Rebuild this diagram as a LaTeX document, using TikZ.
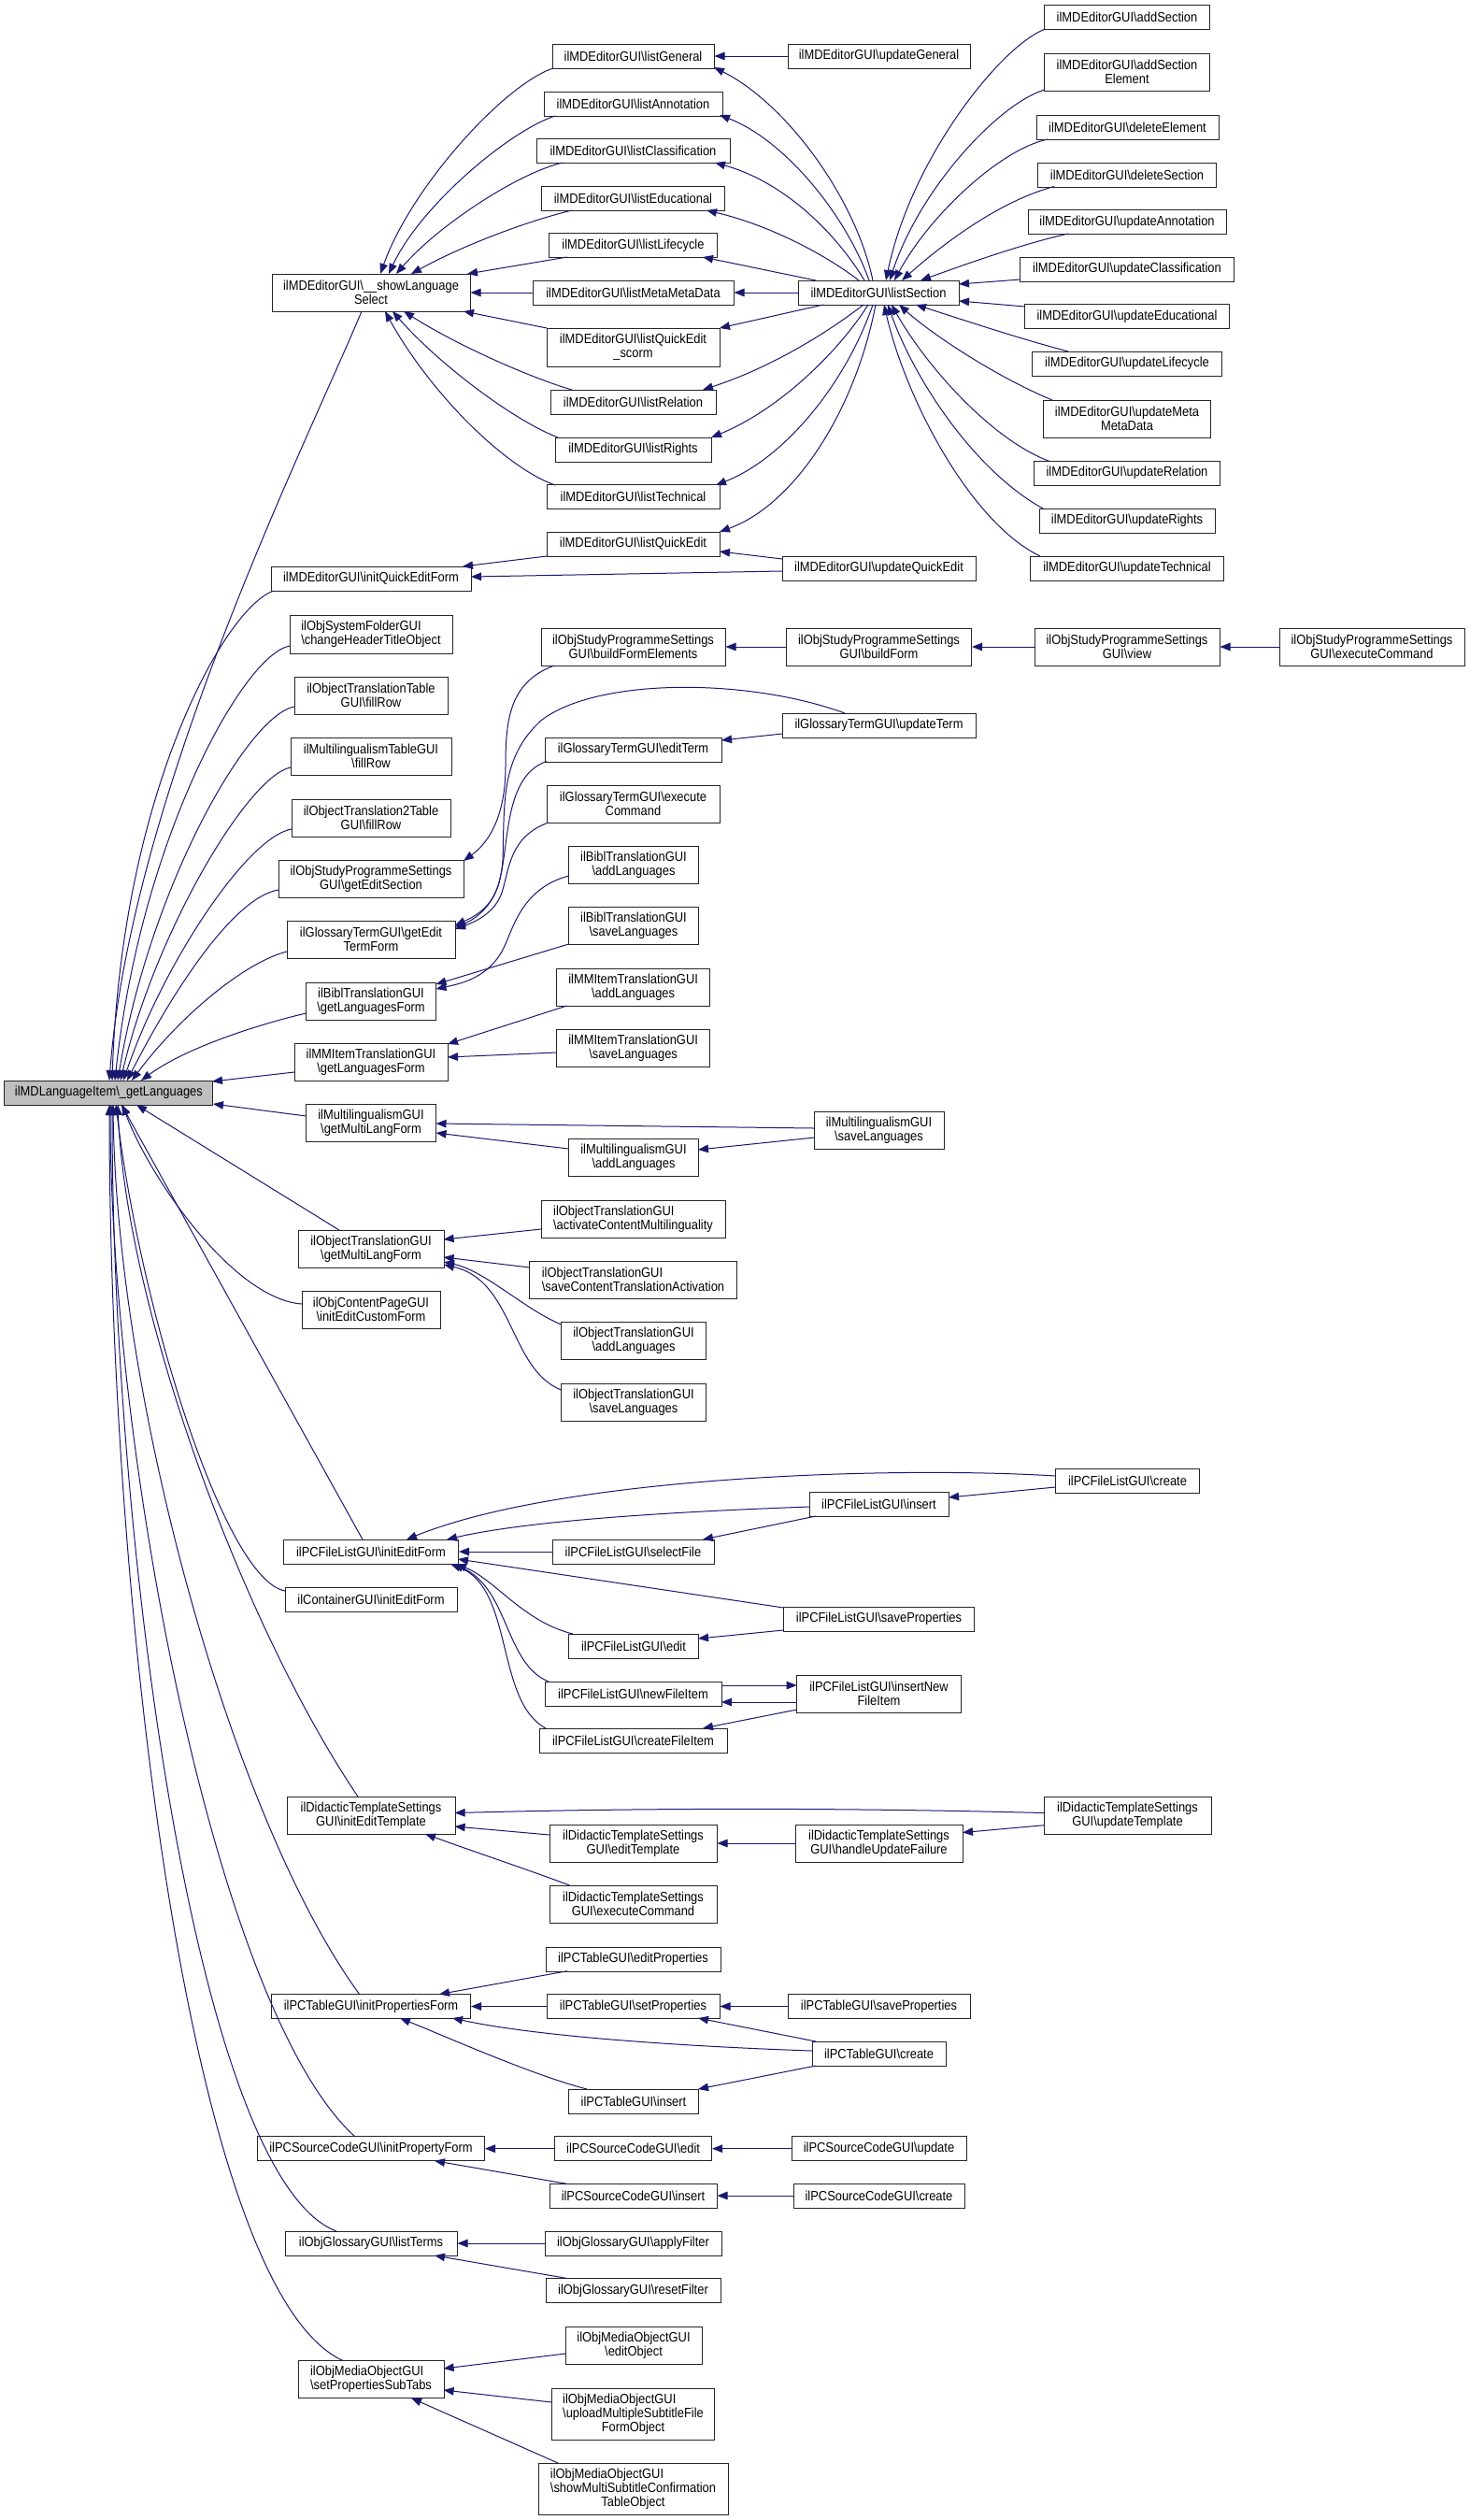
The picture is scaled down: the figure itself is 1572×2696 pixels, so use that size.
\documentclass[tikz,border=0pt]{standalone}
\usepackage{fontspec}
\setmainfont{Liberation Sans}[FakeStretch=0.89]
\usetikzlibrary{arrows.meta}
\definecolor{navy}{RGB}{25,25,112}
\definecolor{rootgray}{RGB}{191,191,191}
\newcommand\bs{\textbackslash}
\newcommand\lft[2]{\setbox0=\hbox{#2}\hbox to\wd0{#1\hfil}}
\newcommand\Nd[6]{\node[box,minimum width=#4pt,minimum height=#5pt] (#1) at (#2,#3) {#6};}
\begin{document}
\begin{tikzpicture}[x=1pt,y=-1pt,
 box/.style={draw=black!85, line width=1pt, fill=white, inner xsep=3pt, inner ysep=1pt, align=center, font=\fontsize{14.5}{15}\selectfont},
 e/.style={draw=navy, line width=1pt, >={Triangle[length=11pt,width=8.5pt]}, <-}
]
\useasboundingbox (0,0) rectangle (1572,2696);
\fill[white] (0,0) rectangle (1572,2696);

% root
\node[box,fill=rootgray,minimum width=223pt,minimum height=26pt] (G) at (116.4,1169) {ilMDLanguageItem\bs\_getLanguages};

% column 1
\Nd{showLS}{397}{313}{212}{40}{ilMDEditorGUI\bs\_\_showLanguage\\Select}
\Nd{initQE}{397}{619}{214}{26}{ilMDEditorGUI\bs initQuickEditForm}
\Nd{chgHdr}{397}{678.5}{174}{41}{\lft{ilObjSystemFolderGUI}{\bs changeHeaderTitleObject}\\\bs changeHeaderTitleObject}
\Nd{otTable}{397}{744}{164}{40}{ilObjectTranslationTable\\GUI\bs fillRow}
\Nd{mlTable}{397}{809}{172}{40}{ilMultilingualismTableGUI\\\bs fillRow}
\Nd{otTwoTable}{397}{875}{170}{40}{ilObjectTranslation2Table\\GUI\bs fillRow}
\Nd{spEditSec}{397}{940}{198}{40}{ilObjStudyProgrammeSettings\\GUI\bs getEditSection}
\Nd{gtEditForm}{397}{1005}{180}{40}{ilGlossaryTermGUI\bs getEdit\\TermForm}
\Nd{biblForm}{397}{1071}{139}{40}{ilBiblTranslationGUI\\\bs getLanguagesForm}
\Nd{mmForm}{397}{1136}{164}{40}{ilMMItemTranslationGUI\\\bs getLanguagesForm}
\Nd{mlForm}{397}{1201}{139}{40}{ilMultilingualismGUI\\\bs getMultiLangForm}
\Nd{otForm}{397}{1336}{156}{40}{ilObjectTranslationGUI\\\bs getMultiLangForm}
\Nd{cpForm}{397}{1401}{148}{40}{ilObjContentPageGUI\\\bs initEditCustomForm}
\Nd{fileInit}{397}{1660}{187}{26}{ilPCFileListGUI\bs initEditForm}
\Nd{contInit}{397}{1711}{184}{26}{ilContainerGUI\bs initEditForm}
\Nd{dtInit}{397}{1942}{180}{40}{ilDidacticTemplateSettings\\GUI\bs initEditTemplate}
\Nd{tabInit}{397}{2146.5}{213}{26}{ilPCTableGUI\bs initPropertiesForm}
\Nd{scInit}{397}{2298.7}{243}{26}{ilPCSourceCodeGUI\bs initPropertyForm}
\Nd{glTerms}{397}{2400}{184}{26}{ilObjGlossaryGUI\bs listTerms}
\Nd{moTabs}{397}{2545.5}{156}{40}{\lft{ilObjMediaObjectGUI}{\bs setPropertiesSubTabs}\\\bs setPropertiesSubTabs}

% column 2
\Nd{lGen}{677.5}{60}{173}{26}{ilMDEditorGUI\bs listGeneral}
\Nd{lAnn}{677.5}{111}{191}{26}{ilMDEditorGUI\bs listAnnotation}
\Nd{lCla}{677.5}{161.5}{207}{26}{ilMDEditorGUI\bs listClassification}
\Nd{lEdu}{677.5}{212}{196}{26}{ilMDEditorGUI\bs listEducational}
\Nd{lLif}{677.5}{262.5}{180}{26}{ilMDEditorGUI\bs listLifecycle}
\Nd{lMMD}{677.5}{313}{215}{26}{ilMDEditorGUI\bs listMetaMetaData}
\Nd{lQES}{677.5}{371.5}{185}{41}{ilMDEditorGUI\bs listQuickEdit\\\_scorm}
\Nd{lRel}{677.5}{430}{177}{26}{ilMDEditorGUI\bs listRelation}
\Nd{lRig}{677.5}{481}{167}{26}{ilMDEditorGUI\bs listRights}
\Nd{lTec}{677.5}{531.5}{185}{26}{ilMDEditorGUI\bs listTechnical}
\Nd{lQE}{677.5}{582}{185}{26}{ilMDEditorGUI\bs listQuickEdit}
\Nd{spBFE}{677.5}{692}{197}{40}{ilObjStudyProgrammeSettings\\GUI\bs buildFormElements}
\Nd{gtEdit}{677.5}{802}{189}{26}{ilGlossaryTermGUI\bs editTerm}
\Nd{gtExec}{677.5}{860}{185}{40}{ilGlossaryTermGUI\bs execute\\Command}
\Nd{biblAdd}{678}{925}{139}{40}{ilBiblTranslationGUI\\\bs addLanguages}
\Nd{biblSave}{678}{990}{139}{40}{ilBiblTranslationGUI\\\bs saveLanguages}
\Nd{mmAdd}{677.6}{1056}{164}{40}{ilMMItemTranslationGUI\\\bs addLanguages}
\Nd{mmSave}{677.6}{1121}{164}{40}{ilMMItemTranslationGUI\\\bs saveLanguages}
\Nd{mlAdd}{678}{1238.6}{139}{40}{ilMultilingualismGUI\\\bs addLanguages}
\Nd{otAct}{677.5}{1304}{197}{40}{\lft{ilObjectTranslationGUI}{\bs activateContentMultilinguality}\\\bs activateContentMultilinguality}
\Nd{otCTA}{677.5}{1369}{222}{40}{\lft{ilObjectTranslationGUI}{\bs saveContentTranslationActivation}\\\bs saveContentTranslationActivation}
\Nd{otAdd}{678}{1434.6}{155}{40}{ilObjectTranslationGUI\\\bs addLanguages}
\Nd{otSave}{678}{1500}{155}{40}{ilObjectTranslationGUI\\\bs saveLanguages}
\Nd{fSelect}{677.5}{1660}{173}{26}{ilPCFileListGUI\bs selectFile}
\Nd{fEdit}{678}{1761}{139}{26}{ilPCFileListGUI\bs edit}
\Nd{fNew}{677.5}{1812}{189}{26}{ilPCFileListGUI\bs newFileItem}
\Nd{fCreItem}{677.5}{1862}{201}{26}{ilPCFileListGUI\bs createFileItem}
\Nd{dtEdit}{677.5}{1972}{179}{40}{ilDidacticTemplateSettings\\GUI\bs editTemplate}
\Nd{dtExec}{677.5}{2037}{179}{40}{ilDidacticTemplateSettings\\GUI\bs executeCommand}
\Nd{tEditP}{677.5}{2096}{187}{26}{ilPCTableGUI\bs editProperties}
\Nd{tSetP}{677.5}{2146.5}{185}{26}{ilPCTableGUI\bs setProperties}
\Nd{tInsert}{678}{2248}{139}{26}{ilPCTableGUI\bs insert}
\Nd{scEdit}{677.6}{2298.7}{168}{26}{ilPCSourceCodeGUI\bs edit}
\Nd{scInsert}{677.5}{2349}{179}{26}{ilPCSourceCodeGUI\bs insert}
\Nd{glApply}{677.5}{2400}{189}{26}{ilObjGlossaryGUI\bs applyFilter}
\Nd{glReset}{677.5}{2450.5}{187}{26}{ilObjGlossaryGUI\bs resetFilter}
\Nd{moEdit}{678}{2509}{146}{40}{ilObjMediaObjectGUI\\\bs editObject}
\Nd{moUpload}{677.5}{2582.5}{174}{55}{\lft{ilObjMediaObjectGUI}{\bs uploadMultipleSubtitleFile}\\\bs uploadMultipleSubtitleFile\\FormObject}
\Nd{moShow}{677.5}{2662.6}{203}{55}{\lft{ilObjMediaObjectGUI}{\bs showMultiSubtitleConfirmation}\\\bs showMultiSubtitleConfirmation\\TableObject}

% column 3
\Nd{upGen}{940.5}{60}{195}{26}{ilMDEditorGUI\bs updateGeneral}
\Nd{lSec}{940}{313}{172}{26}{ilMDEditorGUI\bs listSection}
\Nd{upQE}{940.5}{608}{207}{26}{ilMDEditorGUI\bs updateQuickEdit}
\Nd{spBF}{940.5}{692}{198}{40}{ilObjStudyProgrammeSettings\\GUI\bs buildForm}
\Nd{gtUpd}{940.5}{776}{207}{26}{ilGlossaryTermGUI\bs updateTerm}
\Nd{mlSave}{940.5}{1209}{139}{40}{ilMultilingualismGUI\\\bs saveLanguages}
\Nd{fInsert}{940.5}{1609}{149}{26}{ilPCFileListGUI\bs insert}
\Nd{fSaveP}{940.5}{1732}{204}{26}{ilPCFileListGUI\bs saveProperties}
\Nd{fInsNew}{940.5}{1812}{176}{40}{ilPCFileListGUI\bs insertNew\\FileItem}
\Nd{dtHUF}{940.5}{1972}{179}{40}{ilDidacticTemplateSettings\\GUI\bs handleUpdateFailure}
\Nd{tSaveP}{940.5}{2146.5}{195}{26}{ilPCTableGUI\bs saveProperties}
\Nd{tCreate}{940.5}{2197}{143}{26}{ilPCTableGUI\bs create}
\Nd{scUpd}{940.5}{2298.7}{187}{26}{ilPCSourceCodeGUI\bs update}
\Nd{scCreate}{940.5}{2349}{183}{26}{ilPCSourceCodeGUI\bs create}

% column 4
\Nd{addSec}{1206}{18.4}{177}{26}{ilMDEditorGUI\bs addSection}
\Nd{addSecEl}{1206}{77}{177}{40}{ilMDEditorGUI\bs addSection\\Element}
\Nd{delEl}{1206.5}{136}{195}{26}{ilMDEditorGUI\bs deleteElement}
\Nd{delSec}{1206}{187}{191}{26}{ilMDEditorGUI\bs deleteSection}
\Nd{upAnn}{1206}{237.5}{212}{26}{ilMDEditorGUI\bs updateAnnotation}
\Nd{upCla}{1206}{288}{229}{26}{ilMDEditorGUI\bs updateClassification}
\Nd{upEdu}{1206}{338.5}{219}{26}{ilMDEditorGUI\bs updateEducational}
\Nd{upLif}{1206}{389}{203}{26}{ilMDEditorGUI\bs updateLifecycle}
\Nd{upMMD}{1206}{448}{179}{40}{ilMDEditorGUI\bs updateMeta\\MetaData}
\Nd{upRel}{1206}{506}{199}{26}{ilMDEditorGUI\bs updateRelation}
\Nd{upRig}{1206}{557}{188}{26}{ilMDEditorGUI\bs updateRights}
\Nd{upTec}{1206}{608}{207}{26}{ilMDEditorGUI\bs updateTechnical}
\Nd{spView}{1206}{692}{198}{40}{ilObjStudyProgrammeSettings\\GUI\bs view}
\Nd{fCreate}{1206.5}{1584}{154}{26}{ilPCFileListGUI\bs create}
\Nd{dtUpd}{1206.5}{1942.7}{179}{40}{ilDidacticTemplateSettings\\GUI\bs updateTemplate}

% column 5
\Nd{spExec}{1468}{692}{198}{40}{ilObjStudyProgrammeSettings\\GUI\bs executeCommand}

% ---------- edges into root (upper fan)
\draw[e] ([shift={(0.6,-13)}]G.center) .. controls (140,850) and (330,470) .. ([shift={(-10,20)}]showLS.center);
\draw[e] ([shift={(3.6,-13)}]G.center) .. controls (130,850) and (240,650) .. ([shift={(-104,13)}]initQE.center);
\draw[e] ([shift={(6.6,-13)}]G.center) .. controls (150,900) and (260,700) .. ([shift={(-87,12.5)}]chgHdr.center);
\draw[e] ([shift={(9.6,-13)}]G.center) .. controls (160,950) and (265,765) .. ([shift={(-82,12)}]otTable.center);
\draw[e] ([shift={(12.6,-13)}]G.center) .. controls (165,1000) and (265,830) .. ([shift={(-86,12)}]mlTable.center);
\draw[e] ([shift={(15.6,-13)}]G.center) .. controls (175,1030) and (265,895) .. ([shift={(-85,12)}]otTwoTable.center);
\draw[e] ([shift={(19.6,-13)}]G.center) .. controls (185,1060) and (250,960) .. ([shift={(-99,12)}]spEditSec.center);
\draw[e] ([shift={(24.6,-13)}]G.center) .. controls (190,1090) and (260,1030) .. ([shift={(-90,13)}]gtEditForm.center);
\draw[e] ([shift={(34.6,-13)}]G.center) .. controls (200,1120) and (280,1095) .. ([shift={(-69.5,13)}]biblForm.center);
\draw[e] ([shift={(110.6,-12)}]G.center) -- ([shift={(-82,11)}]mmForm.center);
\draw[e] ([shift={(111.6,12)}]G.center) -- ([shift={(-69.5,-7)}]mlForm.center);
% lower fan
\draw[e] ([shift={(29.6,13)}]G.center) -- ([shift={(-34,-20)}]otForm.center);
\draw[e] ([shift={(14.6,13)}]G.center) .. controls (160,1260) and (250,1390) .. ([shift={(-74,-6)}]cpForm.center);
\draw[e] ([shift={(13.6,13)}]G.center) -- ([shift={(-9,-13)}]fileInit.center);
\draw[e] ([shift={(7.6,13)}]G.center) .. controls (150,1400) and (240,1690) .. ([shift={(-92,-9)}]contInit.center);
\draw[e] ([shift={(9.6,13)}]G.center) .. controls (135,1400) and (260,1740) .. ([shift={(-14,-20)}]dtInit.center);
\draw[e] ([shift={(4.6,13)}]G.center) .. controls (125,1500) and (250,1950) .. ([shift={(-12,-12.5)}]tabInit.center);
\draw[e] ([shift={(1.6,13)}]G.center) .. controls (118,1550) and (230,2150) .. ([shift={(-17,-12.7)}]scInit.center);
\draw[e] ([shift={(3.6,13)}]G.center) .. controls (120,1650) and (210,2330) .. ([shift={(-37,-13)}]glTerms.center);
\draw[e] ([shift={(0.6,13)}]G.center) .. controls (117,1700) and (200,2450) .. ([shift={(-30,-20)}]moTabs.center);

% ---------- list* -> showLanguageSelect
\draw[e] ([shift={(10,-20)}]showLS.center) .. controls (440,200) and (540,90) .. ([shift={(-85.5,13)}]lGen.center);
\draw[e] ([shift={(19,-20)}]showLS.center) .. controls (450,220) and (545,140) .. ([shift={(-83.5,13)}]lAnn.center);
\draw[e] ([shift={(27,-20)}]showLS.center) .. controls (470,240) and (555,185) .. ([shift={(-75.5,12.5)}]lCla.center);
\draw[e] ([shift={(43,-20)}]showLS.center) .. controls (500,260) and (570,235) .. ([shift={(-65.5,13)}]lEdu.center);
\draw[e] ([shift={(103,-20)}]showLS.center) -- ([shift={(-70.5,12.5)}]lLif.center);
\draw[e] (showLS.east) -- (lMMD.west);
\draw[e] ([shift={(99,20)}]showLS.center) -- ([shift={(-92.5,-20.5)}]lQES.center);
\draw[e] ([shift={(35,20)}]showLS.center) .. controls (490,370) and (570,405) .. ([shift={(-65.5,-13)}]lRel.center);
\draw[e] ([shift={(23,20)}]showLS.center) .. controls (470,390) and (550,450) .. ([shift={(-80.5,-13)}]lRig.center);
\draw[e] ([shift={(15,20)}]showLS.center) .. controls (460,420) and (540,500) .. ([shift={(-83.5,-12.5)}]lTec.center);

% ---------- listSection -> list*
\draw[e] ([shift={(86.5,12)}]lGen.center) .. controls (840,110) and (915,210) .. ([shift={(-6,-13)}]lSec.center);
\draw[e] ([shift={(92.5,12)}]lAnn.center) .. controls (840,150) and (905,230) .. ([shift={(-10,-13)}]lSec.center);
\draw[e] ([shift={(87.5,12.5)}]lCla.center) .. controls (840,195) and (895,250) .. ([shift={(-15,-13)}]lSec.center);
\draw[e] ([shift={(78.5,13)}]lEdu.center) .. controls (820,240) and (880,270) .. ([shift={(-21,-13)}]lSec.center);
\draw[e] ([shift={(74.5,12.5)}]lLif.center) -- ([shift={(-67,-13)}]lSec.center);
\draw[e] (lMMD.east) -- (lSec.west);
\draw[e] ([shift={(92.5,-20.5)}]lQES.center) -- ([shift={(-59,13)}]lSec.center);
\draw[e] ([shift={(74.5,-13)}]lRel.center) .. controls (820,395) and (880,360) .. ([shift={(-16,13)}]lSec.center);
\draw[e] ([shift={(83.5,-13)}]lRig.center) .. controls (830,440) and (895,380) .. ([shift={(-11,13)}]lSec.center);
\draw[e] ([shift={(88.5,-12.5)}]lTec.center) .. controls (840,490) and (905,410) .. ([shift={(-6,13)}]lSec.center);
\draw[e] ([shift={(92.5,-13)}]lQE.center) .. controls (850,540) and (915,440) .. ([shift={(-3,13)}]lSec.center);

% ---------- column 4 -> listSection
\draw[e] ([shift={(8,-13)}]lSec.center) .. controls (975,170) and (1070,50) .. ([shift={(-88,12.8)}]addSec.center);
\draw[e] ([shift={(12,-13)}]lSec.center) .. controls (985,200) and (1070,110) .. ([shift={(-88,19)}]addSecEl.center);
\draw[e] ([shift={(17,-13)}]lSec.center) .. controls (995,230) and (1070,160) .. ([shift={(-85.5,13)}]delEl.center);
\draw[e] ([shift={(25,-13)}]lSec.center) .. controls (1010,260) and (1070,215) .. ([shift={(-78,12.5)}]delSec.center);
\draw[e] ([shift={(45,-13)}]lSec.center) .. controls (1030,284) and (1090,262) .. ([shift={(-63,12.5)}]upAnn.center);
\draw[e] ([shift={(86,-9)}]lSec.center) -- ([shift={(-114,11)}]upCla.center);
\draw[e] ([shift={(86,9)}]lSec.center) -- ([shift={(-109,-10.5)}]upEdu.center);
\draw[e] ([shift={(40,13)}]lSec.center) .. controls (1030,342) and (1090,362) .. ([shift={(-63,-13)}]upLif.center);
\draw[e] ([shift={(22,13)}]lSec.center) .. controls (1000,360) and (1070,405) .. ([shift={(-80,-20)}]upMMD.center);
\draw[e] ([shift={(14,13)}]lSec.center) .. controls (990,390) and (1060,470) .. ([shift={(-83,-12.5)}]upRel.center);
\draw[e] ([shift={(10,13)}]lSec.center) .. controls (980,410) and (1045,505) .. ([shift={(-90,-13)}]upRig.center);
\draw[e] ([shift={(6,13)}]lSec.center) .. controls (970,430) and (1040,560) .. ([shift={(-93,-13)}]upTec.center);

\draw[e] (lGen.east) -- (upGen.west);
\draw[e] ([shift={(92.5,8)}]lQE.center) -- ([shift={(-103.5,-10)}]upQE.center);
\draw[e] ([shift={(107,-2)}]initQE.center) -- ([shift={(-103.5,3)}]upQE.center);
\draw[e] ([shift={(98,-13)}]initQE.center) -- ([shift={(-92.5,13)}]lQE.center);

% ---------- study programme / glossary
\draw[e] ([shift={(99,-19)}]spEditSec.center) .. controls (525,900) and (541,870) .. (541,820) .. controls (541,770) and (545,730) .. ([shift={(-84.5,20)}]spBFE.center);
\draw[e] (spBFE.east) -- (spBF.west);
\draw[e] (spBF.east) -- (spView.west);
\draw[e] (spView.east) -- (spExec.west);
\draw[e] ([shift={(90,-15)}]gtEditForm.center) .. controls (520,975) and (535,960) .. (538,920) .. controls (540,860) and (535,810) .. (580,770) .. controls (640,725) and (800,725) .. ([shift={(-36.5,-13)}]gtUpd.center);
\draw[e] ([shift={(94.5,-10)}]gtEdit.center) -- ([shift={(-103.5,9)}]gtUpd.center);
\draw[e] ([shift={(90,-13)}]gtEditForm.center) .. controls (512,982) and (530,965) .. (535,940) .. controls (545,900) and (540,830) .. ([shift={(-92.5,12.5)}]gtEdit.center);
\draw[e] ([shift={(90,-11)}]gtEditForm.center) .. controls (512,985) and (530,975) .. (537,955) .. controls (545,930) and (545,895) .. ([shift={(-90.5,20)}]gtExec.center);

% ---------- translation forms
\draw[e] ([shift={(69.5,-13)}]biblForm.center) .. controls (495,1052) and (525,1045) .. (540,1012) .. controls (550,990) and (560,950) .. ([shift={(-69.4,12)}]biblAdd.center);
\draw[e] ([shift={(69.5,-18)}]biblForm.center) -- ([shift={(-69.4,20)}]biblSave.center);
\draw[e] ([shift={(82,-19)}]mmForm.center) -- ([shift={(-71,20)}]mmAdd.center);
\draw[e] ([shift={(82,-5)}]mmForm.center) -- ([shift={(-82,5)}]mmSave.center);
\draw[e] ([shift={(69.5,1)}]mlForm.center) -- ([shift={(-69.5,-2)}]mlSave.center);
\draw[e] ([shift={(69,-8.6)}]mlAdd.center) -- ([shift={(-69.5,8)}]mlSave.center);
\draw[e] ([shift={(69.5,11)}]mlForm.center) -- ([shift={(-69.4,-9.6)}]mlAdd.center);
\draw[e] ([shift={(77.6,-10)}]otForm.center) -- ([shift={(-98.5,11)}]otAct.center);
\draw[e] ([shift={(77.6,9)}]otForm.center) -- ([shift={(-110.8,-13)}]otCTA.center);
\draw[e] ([shift={(78,14)}]otForm.center) .. controls (520,1360) and (560,1400) .. ([shift={(-77.5,-17.6)}]otAdd.center);
\draw[e] ([shift={(78,17)}]otForm.center) .. controls (550,1370) and (545,1465) .. ([shift={(-77.5,-13)}]otSave.center);

% ---------- PC file list
\draw[e] ([shift={(38,-13)}]fileInit.center) .. controls (600,1580) and (950,1568) .. ([shift={(-77,-5)}]fCreate.center);
\draw[e] ([shift={(74.5,-7)}]fInsert.center) -- ([shift={(-77,7)}]fCreate.center);
\draw[e] ([shift={(81,-13)}]fileInit.center) .. controls (560,1628) and (700,1618) .. ([shift={(-74.5,3)}]fInsert.center);
\draw[e] ([shift={(74.5,-13)}]fSelect.center) -- ([shift={(-67.5,13)}]fInsert.center);
\draw[e] (fileInit.east) -- (fSelect.west);
\draw[e] ([shift={(93,8)}]fileInit.center) -- ([shift={(-102,-12)}]fSaveP.center);
\draw[e] ([shift={(69,-8)}]fEdit.center) -- ([shift={(-102,12)}]fSaveP.center);
\draw[e] ([shift={(91,13)}]fileInit.center) .. controls (530,1690) and (560,1735) .. ([shift={(-65,-13)}]fEdit.center);
\draw[e] ([shift={(88,13)}]fileInit.center) .. controls (545,1700) and (540,1780) .. ([shift={(-90.5,-13)}]fNew.center);
\draw[e] ([shift={(85,13)}]fileInit.center) .. controls (550,1700) and (530,1820) .. ([shift={(-93.5,-13)}]fCreItem.center);
\draw[e] ([shift={(-87.8,-9)}]fInsNew.center) -- ([shift={(94.5,-9)}]fNew.center);
\draw[e] ([shift={(94.5,9)}]fNew.center) -- ([shift={(-87.8,9)}]fInsNew.center);
\draw[e] ([shift={(74.5,-13)}]fCreItem.center) -- ([shift={(-87.8,17)}]fInsNew.center);

% ---------- didactic templates
\draw[e] ([shift={(89.6,-2.5)}]dtInit.center) .. controls (700,1934) and (900,1934) .. ([shift={(-89.5,-3.2)}]dtUpd.center);
\draw[e] ([shift={(89.5,-11.5)}]dtHUF.center) -- ([shift={(-89.5,10)}]dtUpd.center);
\draw[e] (dtEdit.east) -- (dtHUF.west);
\draw[e] ([shift={(89.6,12)}]dtInit.center) -- ([shift={(-89.5,-9)}]dtEdit.center);
\draw[e] ([shift={(58,20)}]dtInit.center) .. controls (510,1982) and (570,2002) .. ([shift={(-68,-20)}]dtExec.center);

% ---------- PC table
\draw[e] ([shift={(73,-13)}]tabInit.center) -- ([shift={(-70.5,12.7)}]tEditP.center);
\draw[e] (tabInit.east) -- (tSetP.west);
\draw[e] ([shift={(87,12.5)}]tabInit.center) .. controls (580,2180) and (750,2190) .. ([shift={(-71.5,-3)}]tCreate.center);
\draw[e] ([shift={(69.5,12.5)}]tSetP.center) -- ([shift={(-67.5,-13)}]tCreate.center);
\draw[e] ([shift={(69,-13)}]tInsert.center) -- ([shift={(-67.5,13)}]tCreate.center);
\draw[e] ([shift={(31,12.5)}]tabInit.center) .. controls (480,2180) and (570,2220) .. ([shift={(-50,-13)}]tInsert.center);
\draw[e] (tSetP.east) -- (tSaveP.west);

% ---------- PC source code
\draw[e] (scInit.east) -- (scEdit.west);
\draw[e] ([shift={(68,13)}]scInit.center) -- ([shift={(-70.5,-12.6)}]scInsert.center);
\draw[e] (scEdit.east) -- (scUpd.west);
\draw[e] (scInsert.east) -- (scCreate.west);

% ---------- glossary list terms
\draw[e] (glTerms.east) -- (glApply.west);
\draw[e] ([shift={(68,13)}]glTerms.center) -- ([shift={(-70.5,-13)}]glReset.center);

% ---------- media object
\draw[e] ([shift={(77.6,-11.5)}]moTabs.center) -- ([shift={(-73,9)}]moEdit.center);
\draw[e] ([shift={(77.6,11.5)}]moTabs.center) -- ([shift={(-87,-12.5)}]moUpload.center);
\draw[e] ([shift={(43,20)}]moTabs.center) -- ([shift={(-80.5,-27.6)}]moShow.center);
\end{tikzpicture}
\end{document}
